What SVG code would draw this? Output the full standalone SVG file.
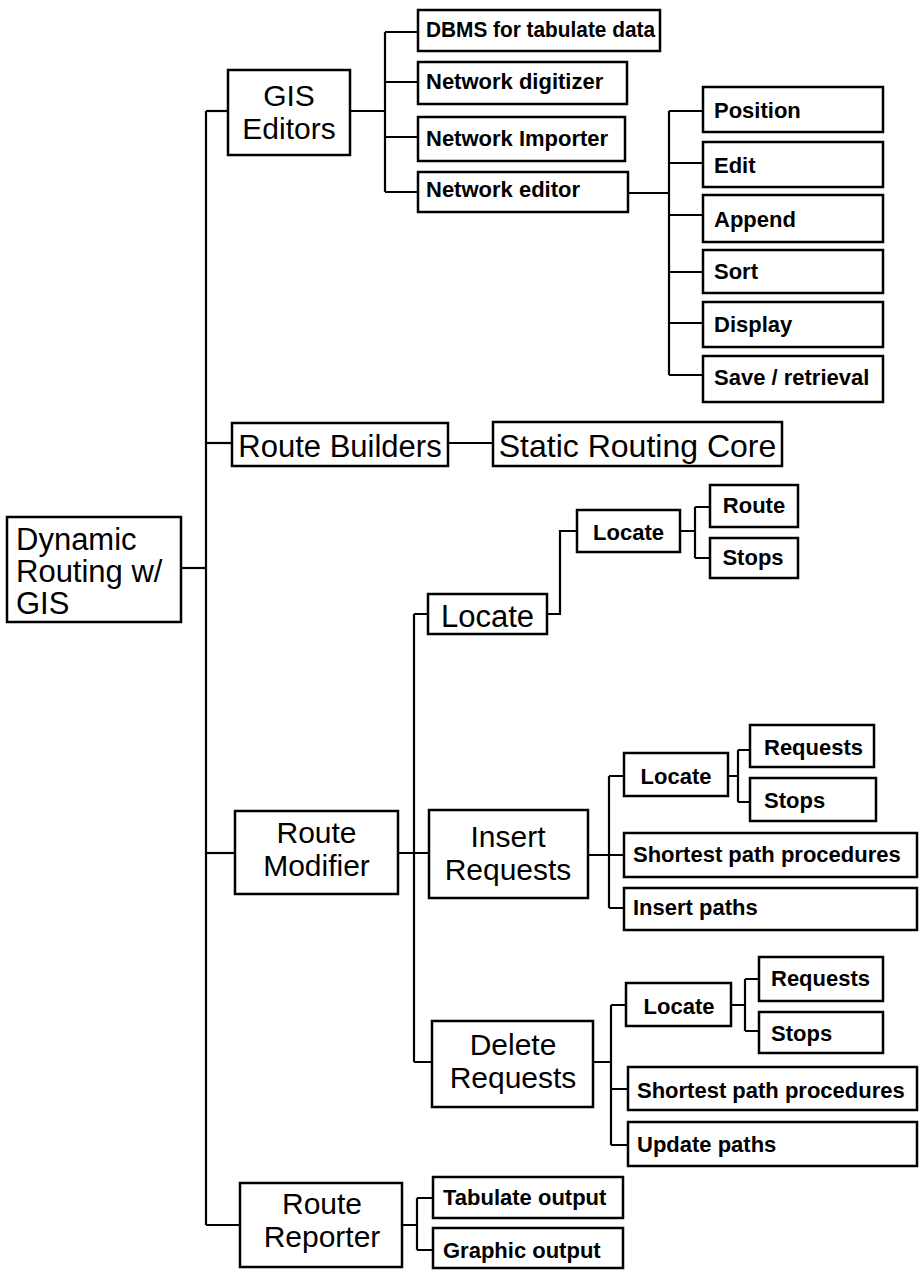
<svg xmlns="http://www.w3.org/2000/svg" width="920" height="1270" viewBox="0 0 920 1270">
<style>
rect{fill:#fff;stroke:#000;stroke-width:2.5}
text{font-family:"Liberation Sans",Arial,sans-serif;fill:#000}
.L{font-size:31px;text-anchor:middle}
.M{font-size:30px;text-anchor:middle}
.Ll{font-size:31px}
.s{font-size:22px;font-weight:bold}
.sc{font-size:22px;font-weight:bold;text-anchor:middle}
#connectors path{fill:none;stroke:#000;stroke-width:2.2}
</style>
<rect x="0" y="0" width="920" height="1270" style="fill:#fff;stroke:none"/>
<g id="connectors">
<path d="M181 568 H206"/>
<path d="M206 111 V1225"/>
<path d="M206 111 H228"/>
<path d="M206 443 H232"/>
<path d="M206 853 H235"/>
<path d="M206 1225 H240"/>
<path d="M350 111 H385 M385 32 V192 M385 32 H418 M385 82 H418 M385 137 H418 M385 192 H418"/>
<path d="M628 193 H669 M669 111 V375 M669 111 H703 M669 163 H703 M669 215 H703 M669 272 H703 M669 323 H703 M669 375 H703"/>
<path d="M448 443 H493"/>
<path d="M398 853 H429 M414 614 V1062 M414 614 H428 M414 1062 H432"/>
<path d="M547 614 H560 V531 H577"/>
<path d="M680 531 H695 M695 507 V558 M695 507 H710 M695 558 H710"/>
<path d="M588 855 H609 M609 776 V908 M609 776 H624 M609 855 H624 M609 908 H624"/>
<path d="M728 776 H738 M738 750 V802 M738 750 H750 M738 802 H750"/>
<path d="M593 1062 H611 M611 1005 V1145 M611 1005 H626 M611 1089 H628 M611 1145 H628"/>
<path d="M731 1005 H745 M745 979 V1031 M745 979 H759 M745 1031 H759"/>
<path d="M402 1225 H417 M417 1198 V1250 M417 1198 H433 M417 1250 H433"/>
</g>
<g id="root"><rect x="7" y="517" width="174" height="105"/><text class="Ll" x="16" y="550">Dynamic</text><text class="Ll" x="16" y="582">Routing w/</text><text class="Ll" x="16" y="614">GIS</text></g>
<g id="gis-editors"><rect x="228" y="70" width="122" height="85"/><text class="M" x="289" y="106">GIS</text><text class="M" x="289" y="139">Editors</text></g>
<g id="dbms"><rect x="418" y="10" width="242" height="41"/><text class="s" x="426" y="37" textLength="229" lengthAdjust="spacingAndGlyphs">DBMS for tabulate data</text></g>
<g id="digitizer"><rect x="418" y="62" width="209" height="42"/><text class="s" x="426" y="89">Network digitizer</text></g>
<g id="importer"><rect x="418" y="117" width="207" height="44"/><text class="s" x="426" y="146">Network Importer</text></g>
<g id="editor"><rect x="418" y="172" width="210" height="40"/><text class="s" x="426" y="197">Network editor</text></g>
<g id="position"><rect x="703" y="87" width="180" height="45"/><text class="s" x="714" y="118">Position</text></g>
<g id="edit"><rect x="703" y="142" width="180" height="45"/><text class="s" x="714" y="173">Edit</text></g>
<g id="append"><rect x="703" y="195" width="180" height="47"/><text class="s" x="714" y="227">Append</text></g>
<g id="sort"><rect x="703" y="250" width="180" height="43"/><text class="s" x="714" y="279">Sort</text></g>
<g id="display"><rect x="703" y="302" width="180" height="45"/><text class="s" x="714" y="332">Display</text></g>
<g id="save"><rect x="703" y="356" width="180" height="46"/><text class="s" x="714" y="385">Save / retrieval</text></g>
<g id="route-builders"><rect x="232" y="423" width="216" height="43"/><text class="L" x="340" y="457">Route Builders</text></g>
<g id="static-core"><rect x="493" y="422" width="289" height="44"/><text class="L" x="637.5" y="457" style="font-size:32px">Static Routing Core</text></g>
<g id="route-modifier"><rect x="235" y="811" width="163" height="83"/><text class="M" x="316.5" y="843">Route</text><text class="M" x="316.5" y="876">Modifier</text></g>
<g id="locate"><rect x="428" y="594" width="119" height="40"/><text class="L" x="487.5" y="627">Locate</text></g>
<g id="locate-2"><rect x="577" y="510" width="103" height="42"/><text class="sc" x="628.5" y="540">Locate</text></g>
<g id="route"><rect x="710" y="485" width="88" height="42"/><text class="sc" x="754" y="513">Route</text></g>
<g id="stops"><rect x="710" y="538" width="88" height="40"/><text class="sc" x="753" y="565">Stops</text></g>
<g id="insert-requests"><rect x="429" y="810" width="159" height="88"/><text class="M" x="508" y="847">Insert</text><text class="M" x="508" y="880">Requests</text></g>
<g id="insert-locate"><rect x="624" y="753" width="104" height="43"/><text class="sc" x="676" y="784">Locate</text></g>
<g id="insert-requests-loc"><rect x="750" y="725" width="124" height="42"/><text class="s" x="764" y="755">Requests</text></g>
<g id="insert-stops"><rect x="750" y="778" width="126" height="43"/><text class="s" x="764" y="808">Stops</text></g>
<g id="insert-shortest"><rect x="624" y="833" width="293" height="44"/><text class="s" x="633" y="862">Shortest path procedures</text></g>
<g id="insert-paths"><rect x="624" y="888" width="293" height="42"/><text class="s" x="633" y="915">Insert paths</text></g>
<g id="delete-requests"><rect x="432" y="1021" width="161" height="86"/><text class="M" x="513" y="1055">Delete</text><text class="M" x="513" y="1088">Requests</text></g>
<g id="delete-locate"><rect x="626" y="983" width="105" height="43"/><text class="sc" x="679" y="1014">Locate</text></g>
<g id="delete-requests-loc"><rect x="759" y="957" width="124" height="44"/><text class="s" x="771" y="986">Requests</text></g>
<g id="delete-stops"><rect x="759" y="1012" width="124" height="41"/><text class="s" x="771" y="1041">Stops</text></g>
<g id="delete-shortest"><rect x="628" y="1067" width="289" height="43"/><text class="s" x="637" y="1098">Shortest path procedures</text></g>
<g id="update-paths"><rect x="628" y="1122" width="289" height="44"/><text class="s" x="637" y="1152">Update paths</text></g>
<g id="route-reporter"><rect x="240" y="1183" width="162" height="84"/><text class="M" x="322" y="1214">Route</text><text class="M" x="322" y="1247">Reporter</text></g>
<g id="tabulate"><rect x="433" y="1177" width="190" height="41"/><text class="s" x="443" y="1205">Tabulate output</text></g>
<g id="graphic"><rect x="433" y="1228" width="190" height="40"/><text class="s" x="443" y="1258">Graphic output</text></g>
</svg>
